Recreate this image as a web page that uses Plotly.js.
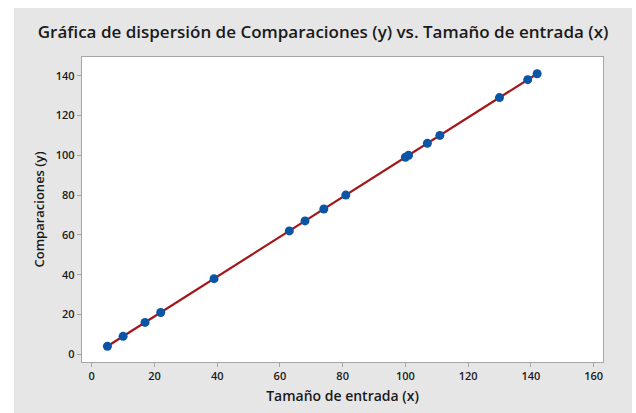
<!DOCTYPE html>
<html><head><meta charset="utf-8">
<script src="https://cdn.plot.ly/plotly-3.0.1.min.js"></script>
<style>html,body{margin:0;padding:0;background:#fff}#c{width:636px;height:413px}</style>
</head><body><div id="c"></div>
<script>
const tamano = [5,10,17,22,39,63,68,74,81,100,101,107,111,130,139,142];
const comparaciones = [4,9,16,21,38,62,67,73,80,99,100,106,110,129,138,141];
const xTicks = [0,20,40,60,80,100,120,140,160];
const yTicks = [0,20,40,60,80,100,120,140];

// least-squares fit line
const n = tamano.length;
const mx = tamano.reduce((a,b)=>a+b,0)/n, my = comparaciones.reduce((a,b)=>a+b,0)/n;
let sxy=0, sxx=0;
for(let i=0;i<n;i++){sxy+=(tamano[i]-mx)*(comparaciones[i]-my);sxx+=(tamano[i]-mx)**2;}
const b1=sxy/sxx, b0=my-b1*mx;
const xmin=Math.min(...tamano), xmax=Math.max(...tamano);

const L=82,R=33,T=57,B=51,W=636,H=413;
const pw=W-L-R, ph=H-T-B;
const px=v=>(v-L)/pw, py=v=>(H-B-v)/ph;

const font="'Open Sans', 'Noto Sans', sans-serif";
Plotly.newPlot('c',[
 {x:[xmin,xmax],y:[b0+b1*xmin,b0+b1*xmax],mode:'lines',line:{color:'#a3171b',width:2.2},hoverinfo:'skip'},
 {x:tamano,y:comparaciones,mode:'markers',marker:{color:'#0a55a5',size:9}}
],{
 width:W,height:H,showlegend:false,
 margin:{l:L,r:R,t:T,b:B,pad:0},
 paper_bgcolor:'#ffffff',plot_bgcolor:'rgba(0,0,0,0)',
 font:{family:font,color:'#1a1a1a',size:11},
 title:{text:'Gráfica de dispersión de Comparaciones (y) vs. Tamaño de entrada (x)',x:0.508,xanchor:'center',y:1-32/H,yanchor:'middle',font:{size:17,weight:600,family:font,color:'#1a1a1a'}},
 shapes:[
  {type:'rect',xref:'paper',yref:'paper',x0:px(14),x1:px(632),y0:py(413),y1:py(8),fillcolor:'#e6e6e6',line:{width:0},layer:'below'},
  {type:'rect',xref:'paper',yref:'paper',x0:0,x1:1,y0:0,y1:1,fillcolor:'#ffffff',line:{width:0},layer:'below'}
 ],
 xaxis:{range:[-3.1,163],tickvals:xTicks,ticktext:xTicks.map(String),showgrid:false,zeroline:false,
   showline:true,mirror:true,linecolor:'#a6a6a6',linewidth:1.2,ticks:'outside',ticklen:4,tickcolor:'#a6a6a6',
   tickfont:{size:11,weight:600},title:{text:'Tamaño de entrada (x)',font:{size:14,weight:600},standoff:8}},
 yaxis:{range:[-3.9,149.4],tickvals:yTicks,ticktext:yTicks.map(String),showgrid:false,zeroline:false,
   showline:true,mirror:true,linecolor:'#a6a6a6',linewidth:1.2,ticks:'outside',ticklen:4,tickcolor:'#a6a6a6',
   tickfont:{size:11,weight:600},title:{text:'Comparaciones (y)',font:{size:13,weight:600},standoff:8}}
},{staticPlot:true});
</script></body></html>
